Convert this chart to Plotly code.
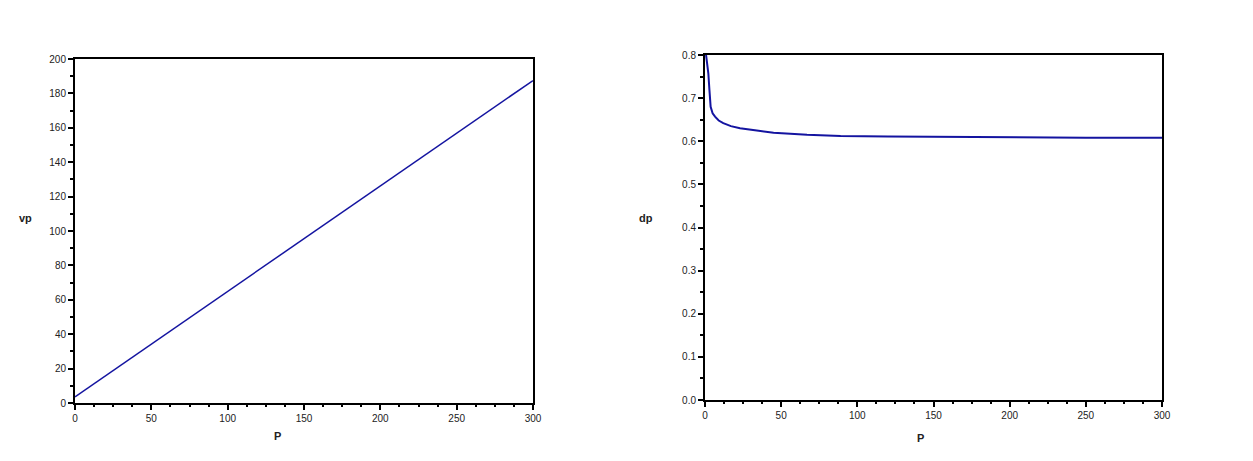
import plotly.graph_objects as go

# données
p_lin = [0, 300]
vp = [3.6, 187.5]

p_curve = [0.7, 1.5, 2.2, 2.9, 3.7, 5, 6.6, 9, 12, 17, 23, 34, 45, 67, 89, 120, 150, 200, 250, 300]
dp = [0.800, 0.780, 0.757, 0.719, 0.680, 0.665, 0.657, 0.648, 0.642, 0.635,
      0.630, 0.625, 0.620, 0.615, 0.612, 0.611, 0.610, 0.609, 0.608, 0.608]

LINE = "#1414a0"
FONT = dict(family="Liberation Sans, Arial", size=10, color="#222")

fig = go.Figure()
fig.add_trace(go.Scatter(x=p_lin, y=vp, mode="lines", line=dict(color=LINE, width=1.5),
                         xaxis="x", yaxis="y", showlegend=False))
fig.add_trace(go.Scatter(x=p_curve, y=dp, mode="lines", line=dict(color=LINE, width=2),
                         xaxis="x2", yaxis="y2", showlegend=False))

W, H = 1237, 445
OFF = 8  # marge du body de la page


def px_x(a, b):
    return [(a - OFF) / W, (b - OFF) / W]


def px_y(top, bottom):
    return [1 - (bottom - OFF) / H, 1 - (top - OFF) / H]


common = dict(showline=True, linecolor="black", linewidth=2, mirror=True,
              ticks="outside", ticklen=5, tickwidth=2, tickcolor="black",
              showgrid=False, zeroline=False, tickfont=FONT, automargin=False)

fig.update_layout(
    width=W, height=H,
    margin=dict(l=0, r=0, t=0, b=0),
    paper_bgcolor="white", plot_bgcolor="white",
    xaxis=dict(domain=px_x(75, 533), range=[0, 300], dtick=50, anchor="y",
               minor=dict(dtick=12.5, ticks="outside", ticklen=2, tickcolor="black", tickwidth=2),
               **common),
    yaxis=dict(domain=px_y(59, 403), range=[0, 200], dtick=20, anchor="x",
               minor=dict(dtick=10, ticks="outside", ticklen=3, tickcolor="black", tickwidth=2),
               **common),
    xaxis2=dict(domain=px_x(705, 1162), range=[0, 300], dtick=50, anchor="y2",
                minor=dict(dtick=12.5, ticks="outside", ticklen=2, tickcolor="black", tickwidth=2),
                **common),
    yaxis2=dict(domain=px_y(55, 400), range=[0, 0.8], dtick=0.1, tickformat=".1f", anchor="x2",
                minor=dict(dtick=0.05, ticks="outside", ticklen=3, tickcolor="black", tickwidth=2),
                **common),
)

# titres d'axes
lab = dict(family="Liberation Sans, Arial", size=11, color="#222")
for txt, x, y in [("<b>vp</b>", 25, 218), ("<b>P</b>", 277, 436),
                  ("<b>dp</b>", 646, 218), ("<b>P</b>", 920, 438)]:
    fig.add_annotation(text=txt, x=(x - OFF) / W, y=1 - (y - OFF) / H, xref="paper", yref="paper",
                       showarrow=False, font=lab, xanchor="center", yanchor="middle")

fig.write_html("out.html")
